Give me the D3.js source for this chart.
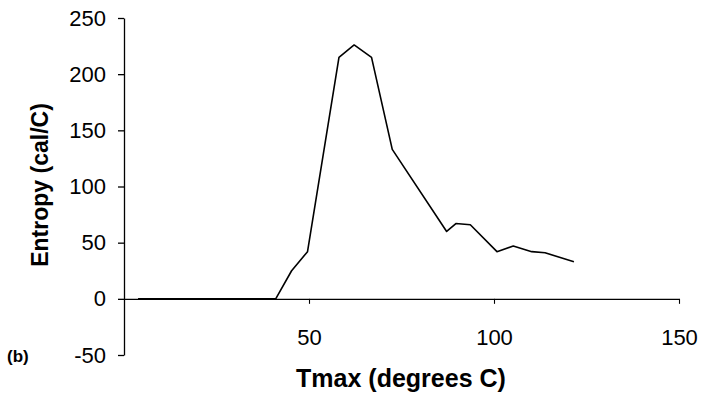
<!DOCTYPE html>
<html>
<head>
<meta charset="utf-8">
<script src="https://cdn.jsdelivr.net/npm/d3@7"></script>
<style>
  html, body { margin: 0; padding: 0; background: #fff; }
  svg { display: block; }
  text { font-family: "Liberation Sans", Arial, sans-serif; fill: #000; }
</style>
</head>
<body>
<svg id="chart" width="701" height="398"></svg>
<script>
// Entropy versus maximum temperature
const tmax    = [3.8, 41, 45.3, 49.6, 58.1, 62.2, 66.9, 72.5, 87.2, 89.7, 93.6, 100.8, 105.2, 110.2, 113.8, 121.6];
const entropy = [0,   0,  25,   42,   215,  226,  215,  133,  60,   67,   66,   42,    47,    42,    41,    33];
const xTicks = [50, 100, 150];
const yTicks = [-50, 0, 50, 100, 150, 200, 250];

const svg = d3.select("#chart");

const x = d3.scaleLinear().domain([0, 150]).range([124, 679]);
const y = d3.scaleLinear().domain([-50, 250]).range([355, 18]);

// plain hyphen for negatives
const fmt = d => String(d);

// Y axis: ticks outward to the left
const yAxis = d3.axisLeft(y).tickValues(yTicks).tickFormat(fmt)
  .tickSize(6).tickSizeOuter(0).tickPadding(12);
const gy = svg.append("g").attr("transform", `translate(${x(0)},0)`).call(yAxis);
gy.select(".domain").attr("stroke", "#000").attr("stroke-width", 1.3);
gy.selectAll(".tick line").attr("stroke", "#000").attr("stroke-width", 1.3);
gy.selectAll(".tick text").attr("font-size", 22).attr("fill", "#000");

// X axis crosses at zero, tick marks pointing down
const xAxis = d3.axisBottom(x).tickValues(xTicks).tickFormat(fmt)
  .tickSize(5).tickSizeOuter(0).tickPadding(0);
const gx = svg.append("g").attr("transform", `translate(0,${y(0)})`).call(xAxis);
gx.select(".domain").attr("stroke", "#000").attr("stroke-width", 1.3);
gx.selectAll(".tick line").attr("stroke", "#000").attr("stroke-width", 1.1);
gx.selectAll(".tick text").attr("font-size", 22).attr("fill", "#000")
  .attr("y", 46).attr("dy", 0);

// Data line
const line = d3.line().x((d, i) => x(tmax[i])).y(d => y(d));
svg.append("path")
  .datum(entropy)
  .attr("fill", "none")
  .attr("stroke", "#000")
  .attr("stroke-width", 1.6)
  .attr("stroke-linejoin", "round")
  .attr("d", line);

// Axis titles
svg.append("text")
  .attr("x", 401).attr("y", 387)
  .attr("text-anchor", "middle")
  .attr("font-size", 25).attr("font-weight", "bold")
  .text("Tmax (degrees C)");

svg.append("text")
  .attr("transform", "translate(48,185) rotate(-90)")
  .attr("text-anchor", "middle")
  .attr("font-size", 23).attr("font-weight", "bold")
  .text("Entropy (cal/C)");

svg.append("text")
  .attr("x", 7).attr("y", 362)
  .attr("font-size", 17).attr("font-weight", "bold")
  .text("(b)");
</script>
</body>
</html>
